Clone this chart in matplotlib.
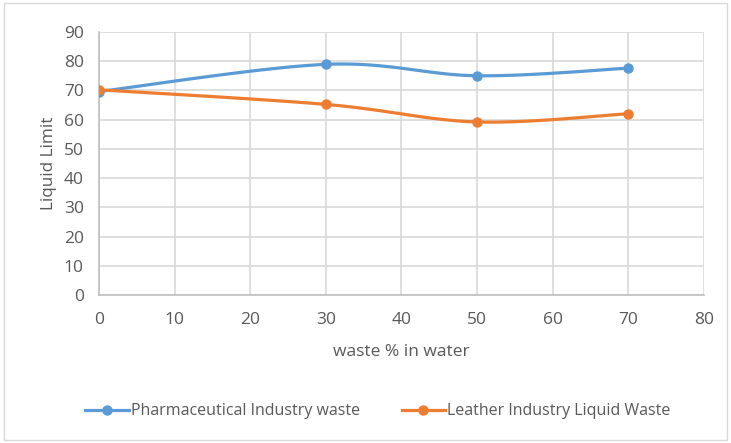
import numpy as np
import matplotlib.pyplot as plt
from matplotlib.patches import Rectangle
from matplotlib.lines import Line2D

# waste content (%) and measured liquid limit
waste_pct = [0, 30, 50, 70]
pharma_ll = [69.6, 78.9, 75.0, 77.6]
leather_ll = [70.2, 65.2, 59.2, 62.0]

x_ticks = [0, 10, 20, 30, 40, 50, 60, 70, 80]
y_ticks = [0, 10, 20, 30, 40, 50, 60, 70, 80, 90]

BLUE = '#5B9BD5'
ORANGE = '#ED7D31'
TXT = '#595959'
FS = 11.5

plt.rcParams['font.family'] = ['Open Sans', 'DejaVu Sans']


def smooth(xs, ys, n=40, tension=1/6):
    # Bezier segments with Catmull-Rom style control points (spreadsheet "smoothed line")
    xs = np.asarray(xs, float)
    ys = np.asarray(ys, float)
    pts = np.column_stack([xs, ys])
    out = []
    for i in range(len(pts) - 1):
        p0 = pts[i - 1] if i > 0 else pts[i]
        p1 = pts[i]
        p2 = pts[i + 1]
        p3 = pts[i + 2] if i + 2 < len(pts) else pts[i + 1]
        c1 = p1 + (p2 - p0) * tension
        c2 = p2 - (p3 - p1) * tension
        t = np.linspace(0, 1, n)[:, None]
        seg = ((1 - t) ** 3) * p1 + 3 * ((1 - t) ** 2) * t * c1 + 3 * (1 - t) * t ** 2 * c2 + t ** 3 * p2
        out.append(seg if i == 0 else seg[1:])
    out = np.vstack(out)
    return out[:, 0], out[:, 1]


fig = plt.figure(figsize=(7.31, 4.43), dpi=100)
fig.patches.append(Rectangle((0.005, 0.006), 0.99, 0.988, transform=fig.transFigure,
                             fill=False, edgecolor='#d9d9d9', linewidth=1))

ax = fig.add_axes([0.1354, 0.334, 0.8276, 0.594])

for ys, col in [(pharma_ll, BLUE), (leather_ll, ORANGE)]:
    sx, sy = smooth(waste_pct, ys)
    ax.plot(sx, sy, color=col, linewidth=2.3, solid_capstyle='round', zorder=3)
    ax.plot(waste_pct, ys, 'o', color=col, markersize=6.5, zorder=4)

ax.set_xlim(0, 80)
ax.set_ylim(0, 90)
ax.set_xticks(x_ticks)
ax.set_yticks(y_ticks)
ax.grid(True, color='#d9d9d9', linewidth=1.2)
ax.set_axisbelow(True)
ax.tick_params(length=0, labelsize=12.5, labelcolor=TXT)
ax.tick_params(axis='y', pad=11)
ax.tick_params(axis='x', pad=12)
for side in ['top', 'right']:
    ax.spines[side].set_visible(False)
for side in ['left', 'bottom']:
    ax.spines[side].set_color('#bfbfbf')
    ax.spines[side].set_linewidth(1.2)

ax.set_xlabel('waste % in water', fontsize=12.5, color=TXT, labelpad=12)
ax.set_ylabel('Liquid Limit', fontsize=12.3, color=TXT, labelpad=5)

handles = [Line2D([], [], color=BLUE, linewidth=2.3, marker='o', markersize=6.5),
           Line2D([], [], color=ORANGE, linewidth=2.3, marker='o', markersize=6.5)]
fig.legend(handles, ['Pharmaceutical Industry waste', 'Leather Industry Liquid Waste'],
           loc='center', bbox_to_anchor=(0.517, 0.072), ncol=2, frameon=False,
           fontsize=FS, labelcolor=TXT, handlelength=2.7, handletextpad=0.15,
           columnspacing=2.6)

fig.savefig('out.png', dpi=100)
